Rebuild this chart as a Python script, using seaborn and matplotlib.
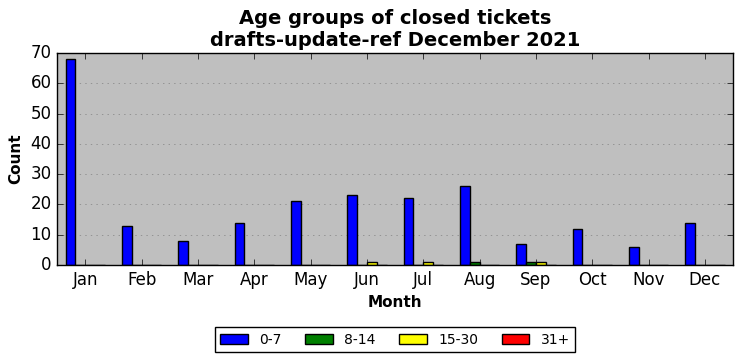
import numpy as np
import pandas as pd
import matplotlib
matplotlib.use("Agg")
import matplotlib.pyplot as plt
import seaborn as sns

# Daten aus dem Diagramm
months = ["Jan", "Feb", "Mar", "Apr", "May", "Jun",
          "Jul", "Aug", "Sep", "Oct", "Nov", "Dec"]
age_groups = ["0-7", "8-14", "15-30", "31+"]
counts_0_7 = [68, 13, 8, 14, 21, 23, 22, 26, 7, 12, 6, 14]
counts_8_14 = [0, 0, 0, 0, 0, 0, 0, 1, 1, 0, 0, 0]
counts_15_30 = [0, 0, 0, 0, 0, 1, 1, 0, 1, 0, 0, 0]
counts_31 = [0, 0, 0, 0, 0, 0, 0, 0, 0, 0, 0, 0]
colors = ["blue", "green", "yellow", "red"]

df = pd.DataFrame({
    "Month": months * 4,
    "Group": [g for g in age_groups for _ in months],
    "Count": counts_0_7 + counts_8_14 + counts_15_30 + counts_31,
})

plt.style.use("classic")
fig, ax = plt.subplots(figsize=(7.42, 3.61), dpi=100)
fig.patch.set_facecolor("white")
ax.set_facecolor("#bfbfbf")

sns.barplot(data=df, x="Month", y="Count", hue="Group", order=months,
            hue_order=age_groups, palette=colors, width=0.7, saturation=1,
            edgecolor="black", linewidth=1, errorbar=None, ax=ax)

ax.set_ylim(0, 70)
ax.set_xlim(-0.5, 11.5)
ax.yaxis.grid(True, linestyle=":", color="gray")
ax.set_axisbelow(True)
ax.set_title("Age groups of closed tickets\ndrafts-update-ref December 2021",
             fontsize=14, fontweight="bold")
ax.set_xlabel("Month", fontsize=11, fontweight="bold")
ax.set_ylabel("Count", fontsize=11, fontweight="bold")

ax.legend(loc="upper center", bbox_to_anchor=(0.5, -0.26), ncol=4,
          fontsize=10, fancybox=False, frameon=True, columnspacing=1.7)

fig.subplots_adjust(left=0.077, right=0.988, top=0.853, bottom=0.266)
fig.savefig("out.png", dpi=100, facecolor="white")
